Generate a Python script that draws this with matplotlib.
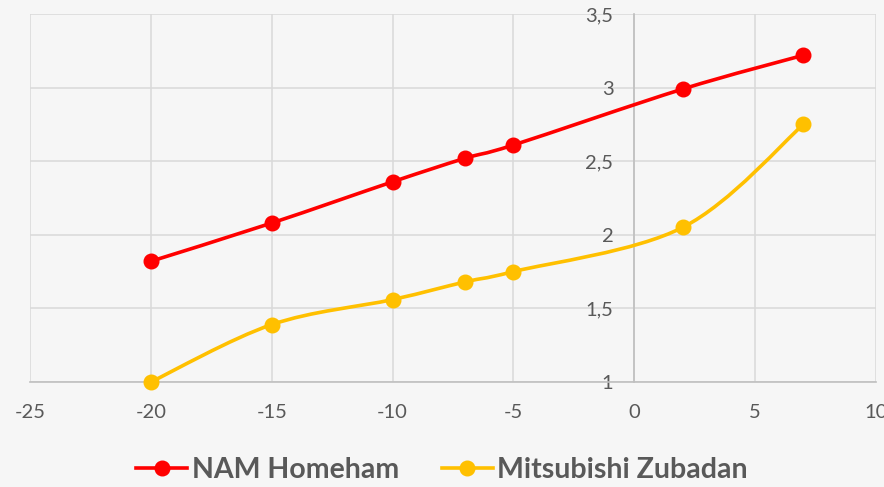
import matplotlib
matplotlib.use("Agg")
import matplotlib.pyplot as plt
from matplotlib.path import Path
from matplotlib.patches import PathPatch
import numpy as np

# donnees
temperatures = [-20, -15, -10, -7, -5, 2, 7]
nam_homeham = [1.82, 2.08, 2.36, 2.52, 2.61, 2.99, 3.22]
mitsubishi_zubadan = [1.0, 1.39, 1.56, 1.68, 1.75, 2.05, 2.75]

x_ticks = [-25, -20, -15, -10, -5, 0, 5, 10]
y_ticks = [1, 1.5, 2, 2.5, 3, 3.5]

ROUGE = "#FF0000"
JAUNE = "#FFC000"
GRIS_TEXTE = "#595959"
FOND = "#F6F6F6"


def courbe_lissee(x, y):
    # lissage facon Excel : bezier cubique, points de controle type Catmull-Rom
    p = np.column_stack([x, y]).astype(float)
    n = len(p)
    verts = [p[0]]
    codes = [Path.MOVETO]
    for i in range(n - 1):
        p0 = p[i - 1] if i > 0 else p[i]
        p3 = p[i + 2] if i + 2 < n else p[i + 1]
        c1 = p[i] + (p[i + 1] - p0) / 6
        c2 = p[i + 1] - (p3 - p[i]) / 6
        verts += [c1, c2, p[i + 1]]
        codes += [Path.CURVE4] * 3
    return Path(verts, codes)


plt.rcParams['font.family'] = ['Lato', 'DejaVu Sans']

fig = plt.figure(figsize=(8.84, 4.87), dpi=100, facecolor=FOND)
ax = fig.add_axes([30 / 884, 1 - 382 / 487, 846 / 884, 368 / 487])
ax.set_facecolor(FOND)

for y, couleur in [(nam_homeham, ROUGE), (mitsubishi_zubadan, JAUNE)]:
    ax.add_patch(PathPatch(courbe_lissee(temperatures, y), facecolor="none",
                           edgecolor=couleur, lw=2.6, zorder=3, capstyle="round"))
    ax.plot(temperatures, y, linestyle="none", marker="o", markersize=10.5,
            color=couleur, zorder=4, clip_on=False)

ax.set_xlim(-25, 10)
ax.set_ylim(1, 3.5)
ax.set_xticks(x_ticks)
ax.set_yticks(y_ticks)
ax.set_xticklabels([str(v) for v in x_ticks])
ax.set_yticklabels([f"{v:g}".replace(".", ",") for v in y_ticks])

ax.grid(True, color="#D9D9D9", lw=1.1, zorder=0)
ax.set_axisbelow(True)
for cote in ["top", "right"]:
    ax.spines[cote].set_visible(False)
ax.spines["left"].set_position(("data", 0))
ax.spines["left"].set_color("#BFBFBF")
ax.spines["bottom"].set_color("#BFBFBF")
ax.spines["left"].set_linewidth(1.2)
ax.spines["bottom"].set_linewidth(1.2)

ax.tick_params(axis="both", length=0, labelsize=14.5, labelcolor=GRIS_TEXTE)
ax.tick_params(axis="x", pad=16)
ax.tick_params(axis="y", pad=15)

poignees = [plt.Line2D([], [], color=ROUGE, lw=2.6, marker="o", markersize=10.5),
            plt.Line2D([], [], color=JAUNE, lw=2.6, marker="o", markersize=10.5)]
fig.legend(poignees, ["NAM Homeham", "Mitsubishi Zubadan"], loc="center",
           bbox_to_anchor=(0.5, 1 - 470 / 487), ncol=2, frameon=False,
           handlelength=1.8, columnspacing=1.5, handletextpad=0.15,
           prop={"size": 20.5, "weight": "bold"}, labelcolor=GRIS_TEXTE)

fig.savefig("out.png", dpi=100, facecolor=FOND)
